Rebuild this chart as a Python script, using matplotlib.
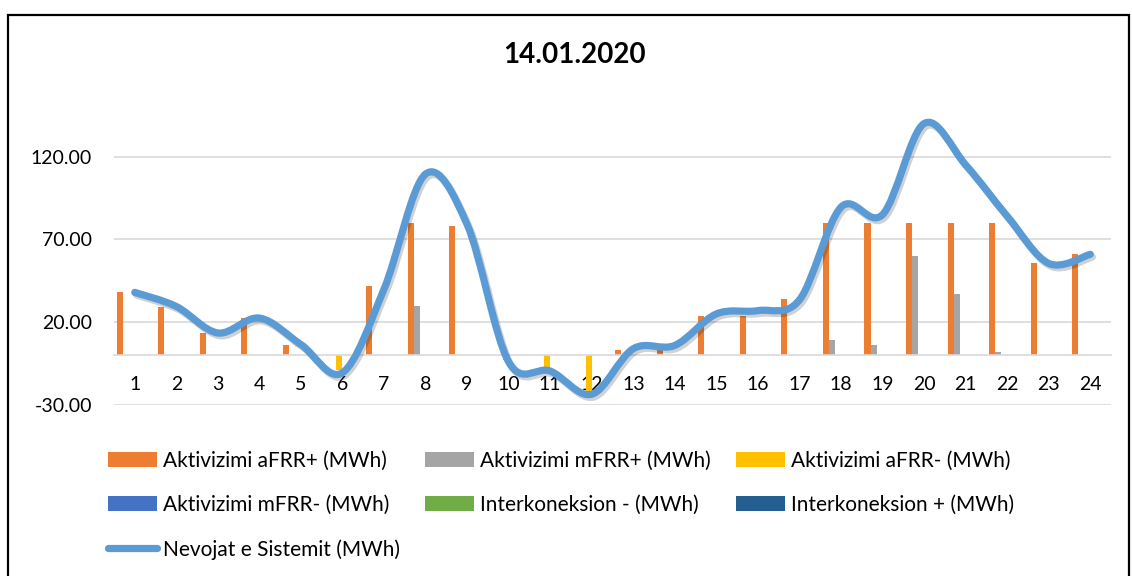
"""Balancing energy activations vs system needs, 14.01.2020
"""
import numpy as np
import matplotlib
matplotlib.use("Agg")
import matplotlib.pyplot as plt
from matplotlib.path import Path
from matplotlib.patches import PathPatch, Rectangle
from matplotlib.lines import Line2D
import matplotlib.patheffects as pe


plt.rcParams["font.family"] = ["Lato", "DejaVu Sans"]

TITLE = "14.01.2020"
HOURS = [str(h) for h in range(1, 25)]

# bar series (MWh)
afrr_up = [38, 29, 13.5, 22.5, 6.5, 0, 42, 80, 78, 0, 0, 0,
           3.5, 3, 24, 23.5, 34, 80, 80, 80, 80, 80, 56, 61]
mfrr_up = [0, 0, 0, 0, 0, 0, 0, 29.5, 0, 0, 0, 0,
           0, 0, 0, 0, 0, 9, 6, 60, 37, 2, 0, 0]
afrr_down = [0, 0, 0, 0, 0, -9, 0, 0, 0, -3, -8.5, -22,
             0, 0, 0, 0, 0, 0, 0, 0, 0, 0, 0, 0]
mfrr_down = [0] * 24
inter_minus = [0] * 24
inter_plus = [0] * 24

# line series
nevojat = [38, 29.5, 13.5, 22.5, 6.5, -10.5, 40, 109.5, 79, -4, -9.5, -23.5,
           4, 6, 25, 27, 33.5, 89.5, 85, 140, 115, 84, 55.5, 61]

BAR_SERIES = [
    ("Aktivizimi aFRR+ (MWh)", afrr_up, "#ED7D31"),
    ("Aktivizimi mFRR+ (MWh)", mfrr_up, "#A5A5A5"),
    ("Aktivizimi aFRR- (MWh)", afrr_down, "#FFC000"),
    ("Aktivizimi mFRR- (MWh)", mfrr_down, "#4472C4"),
    ("Interkoneksion - (MWh)", inter_minus, "#70AD47"),
    ("Interkoneksion + (MWh)", inter_plus, "#255E91"),
]
LINE_LABEL = "Nevojat e Sistemit (MWh)"
LINE_COLOR = "#5B9BD5"

Y_TICKS = [-30, 20, 70, 120]


def _smooth_path(xs, ys):
    # excel-like smoothed line: cubic bezier segments through the points
    pts = np.column_stack([xs, ys]).astype(float)
    n = len(pts)
    verts = [pts[0]]
    codes = [Path.MOVETO]
    for i in range(n - 1):
        p0 = pts[max(i - 1, 0)]
        p1 = pts[i]
        p2 = pts[i + 1]
        p3 = pts[min(i + 2, n - 1)]
        verts += [p1 + (p2 - p0) / 6, p2 - (p3 - p1) / 6, p2]
        codes += [Path.CURVE4] * 3
    return Path(verts, codes)


def main():
    fig = plt.figure(figsize=(11.32, 5.76), dpi=100)
    ax = fig.add_axes([0.1007, 0.2969, 0.8808, 0.5174])

    x = np.arange(1, len(HOURS) + 1)
    width = 0.145
    handles = []
    for k, (label, vals, color) in enumerate(BAR_SERIES):
        bars = ax.bar(x + (k - 2.5) * width, vals, width=width,
                      color=color, label=label, zorder=2)
        handles.append(bars)

    path = _smooth_path(x, nevojat)
    ax.add_patch(PathPatch(path, fill=False, edgecolor=LINE_COLOR, lw=5.2,
                           capstyle="round", joinstyle="round", zorder=3,
                           path_effects=[pe.SimpleLineShadow(offset=(1.5, -2),
                                                             alpha=0.18),
                                         pe.Normal()]))
    line_handle = Line2D([], [], color=LINE_COLOR, lw=5.2,
                         solid_capstyle="round", label=LINE_LABEL)

    ax.set_xlim(0.5, len(HOURS) + 0.5)
    ax.set_ylim(-30, 150)
    ax.set_yticks(Y_TICKS)
    ax.set_yticklabels([f"{v:.2f}" for v in Y_TICKS])
    ax.set_xticks(x)
    ax.set_xticklabels(HOURS)
    ax.yaxis.grid(True, color="#D9D9D9", lw=1.2)
    ax.set_axisbelow(True)
    for s in ["top", "right", "left"]:
        ax.spines[s].set_visible(False)
    ax.spines["bottom"].set_position(("data", 0))
    ax.spines["bottom"].set_color("#D9D9D9")
    ax.spines["bottom"].set_linewidth(1.2)
    ax.tick_params(axis="x", length=0, pad=15, labelsize=14)
    ax.tick_params(axis="y", length=0, pad=16, labelsize=14)

    fig.text(575 / 1132, 1 - 55 / 576, TITLE, ha="center", va="center",
             fontsize=20, fontweight="bold")

    # legend filled column-wise, so reorder to get excel's row order
    order = [handles[0], handles[3], line_handle,
             handles[1], handles[4],
             handles[2], handles[5]]
    fig.legend(handles=order, loc="upper left",
               bbox_to_anchor=(108 / 1132, 1 - 451 / 576), ncol=3,
               frameon=False, fontsize=15, borderpad=0, borderaxespad=0,
               handlelength=2.35, handleheight=0.7, handletextpad=0.3,
               columnspacing=1.2, labelspacing=1.15)

    fig.patches.append(Rectangle((8 / 1132, -0.02), 1121 / 1132,
                                 1.02 - 15 / 576, transform=fig.transFigure,
                                 fill=False, edgecolor="black", lw=1.6))

    fig.savefig("out.png", dpi=100)


if __name__ == "__main__":
    main()
